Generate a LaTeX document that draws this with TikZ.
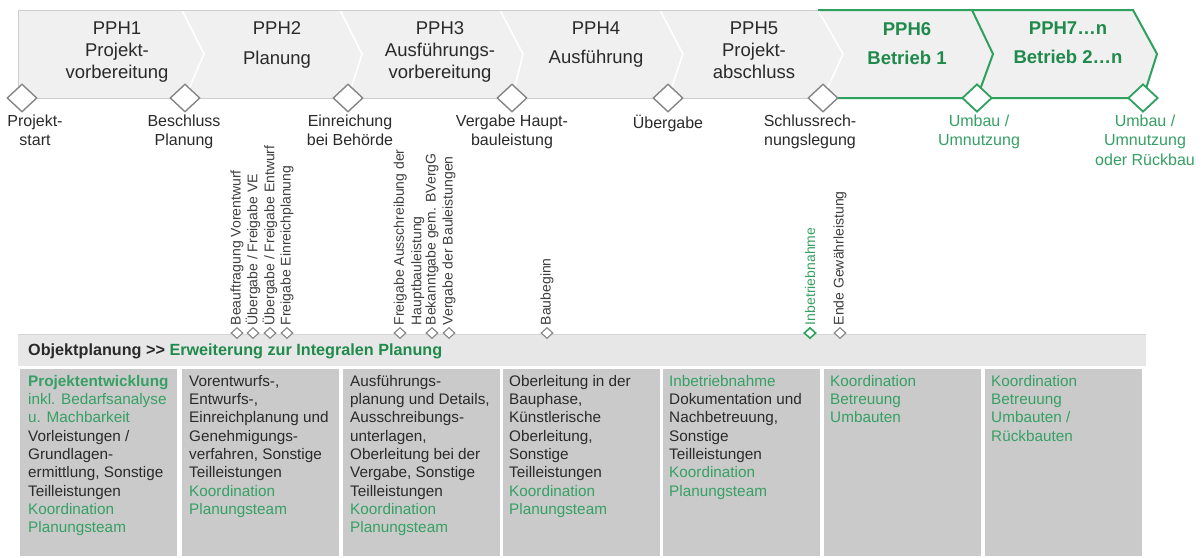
\documentclass[tikz,border=0pt]{standalone}
\usepackage{fontspec}
\setmainfont{Liberation Sans}
\usetikzlibrary{shapes.geometric}

\definecolor{bandgrey}{HTML}{F0F0F0}
\definecolor{bandedge}{HTML}{CDCDCD}
\definecolor{gruen}{HTML}{2FA15F}
\definecolor{gruendark}{HTML}{1F8A4C}
\definecolor{gruentext}{HTML}{36A064}
\definecolor{ink}{HTML}{2A2A2A}
\definecolor{msedge}{HTML}{858585}
\definecolor{headgrey}{HTML}{E7E7E7}
\definecolor{headedge}{HTML}{D6D6D6}
\definecolor{colgrey}{HTML}{CACACA}

\newcommand\gr[1]{\textcolor{gruentext}{#1}}

\begin{document}
\begin{tikzpicture}[x=1pt,y=-1pt,
  phasetitle/.style={align=center, anchor=north, inner sep=0pt, text=ink,
    font=\fontsize{18.5}{22}\selectfont},
  gphasetitle/.style={phasetitle, text=gruendark,
    font=\bfseries\fontsize{18.5}{22}\selectfont},
  milestone/.style={diamond, draw=msedge, fill=white, line width=1.4pt,
    minimum width=30pt, minimum height=28pt, inner sep=0pt},
  gmilestone/.style={milestone, draw=gruen, line width=1.8pt},
  mslabel/.style={align=center, anchor=north, inner sep=0pt, text=ink,
    font=\fontsize{16}{19.5}\selectfont},
  gmslabel/.style={mslabel, text=gruentext},
  smallms/.style={diamond, draw=msedge, fill=white, line width=1.1pt,
    minimum width=12pt, minimum height=11pt, inner sep=0pt},
  gsmallms/.style={smallms, draw=gruen, line width=1.6pt},
  vlabel/.style={rotate=90, anchor=west, inner sep=0pt, text=ink!90,
    font=\fontsize{14}{17.5}\selectfont},
  colbox/.style={fill=colgrey},
  colbody/.style={anchor=north west, align=left, inner sep=0pt, text=ink,
    font=\fontsize{15.3}{18.3}\selectfont},
  divider/.style={white, line width=1.6pt},
  greenline/.style={draw=gruen, line width=2pt, line join=miter}
]
\useasboundingbox (0,0) rectangle (1201,557);
\fill[white] (0,0) rectangle (1201,557);

% ---- phase band ----
\fill[bandgrey] (18,10) -- (1133,10) -- (1157,54) -- (1143,98) -- (18,98) -- cycle;
\draw[divider] (182,10) -- (204,54) -- (185,98);
\draw[divider] (340,10) -- (362,54) -- (348,98);
\draw[divider] (500,10) -- (523,54) -- (512,98);
\draw[divider] (660,10) -- (683,54) -- (668,98);
\draw[divider] (818,10) -- (843,54) -- (823,98);
\draw[bandedge, line width=1pt] (818,10) -- (18,10) -- (18,98) -- (823,98);
\draw[greenline] (818,10) -- (1133,10) -- (1157,54) -- (1143,98) -- (823,98);
\draw[greenline] (972,10) -- (993,54) -- (977,98);

% phase titles
\node[phasetitle] (p1) at (117,21.5) {PPH1\\Projekt-\\vorbereitung};
\node[phasetitle] (p2) at (277,21.5) {PPH2\\[7.5pt]Planung};
\node[phasetitle] (p3) at (440,21.5) {PPH3\\Ausführungs-\\vorbereitung};
\node[phasetitle] (p4) at (596,21.5) {PPH4\\[7.5pt]Ausführung};
\node[phasetitle] (p5) at (754,21.5) {PPH5\\Projekt-\\abschluss};
\node[gphasetitle] (p6) at (907,22) {PPH6\\[7pt]Betrieb 1};
\node[gphasetitle] (p7) at (1068,22) {PPH7…n\\[7pt]Betrieb 2…n};

% ---- main milestones ----
\node[milestone] (ms1) at (22,98) {};
\node[milestone] (ms2) at (185,98) {};
\node[milestone] (ms3) at (348,98) {};
\node[milestone] (ms4) at (512,98) {};
\node[milestone] (ms5) at (668,98) {};
\node[milestone] (ms6) at (823,98) {};
\node[gmilestone] (ms7) at (977,98) {};
\node[gmilestone] (ms8) at (1143,98) {};

\node[mslabel] (l1) at (35,114.5) {Projekt-\\start};
\node[mslabel] (l2) at (184,114.5) {Beschluss\\Planung};
\node[mslabel] (l3) at (350,114.5) {Einreichung\\bei Behörde};
\node[mslabel] (l4) at (512,114.5) {Vergabe Haupt-\\bauleistung};
\node[mslabel] (l5) at (668,114.5) {Übergabe};
\node[mslabel] (l6) at (810,114.5) {Schlussrech-\\nungslegung};
\node[gmslabel] (l7) at (979,114.5) {Umbau /\\Umnutzung};
\node[gmslabel] (l8) at (1145,114.5) {Umbau /\\Umnutzung\\oder Rückbau};

% ---- table header ----
\fill[headgrey] (18,334) rectangle (1146,366);
\draw[headedge, line width=1pt] (18,334) -- (1146,334);
\node[anchor=base west, inner sep=0pt, text=ink,
  font=\bfseries\fontsize{16.2}{19}\selectfont] (head) at (28,355)
  {Objektplanung >{}> \textcolor{gruendark}{Erweiterung zur Integralen Planung}};

% ---- table columns ----
\foreach \cx in {20,182,343,503,663,824,985}
  \fill[colbox] (\cx,369) rectangle ++(157,187);

\node[colbody] (c1) at (28,375) {%
  \textbf{\gr{Projektentwicklung}}\\
  \gr{inkl. Bedarfsanalyse}\\
  \gr{u. Machbarkeit}\\
  Vorleistungen /\\
  Grundlagen-\\
  ermittlung, Sonstige\\
  Teilleistungen\\
  \gr{Koordination}\\
  \gr{Planungsteam}};
\node[colbody] (c2) at (189,375) {%
  Vorentwurfs-,\\
  Entwurfs-,\\
  Einreichplanung und\\
  Genehmigungs-\\
  verfahren, Sonstige\\
  Teilleistungen\\
  \gr{Koordination}\\
  \gr{Planungsteam}};
\node[colbody] (c3) at (350,375) {%
  Ausführungs-\\
  planung und Details,\\
  Ausschreibungs-\\
  unterlagen,\\
  Oberleitung bei der\\
  Vergabe, Sonstige\\
  Teilleistungen\\
  \gr{Koordination}\\
  \gr{Planungsteam}};
\node[colbody] (c4) at (509,375) {%
  Oberleitung in der\\
  Bauphase,\\
  Künstlerische\\
  Oberleitung,\\
  Sonstige\\
  Teilleistungen\\
  \gr{Koordination}\\
  \gr{Planungsteam}};
\node[colbody] (c5) at (669,375) {%
  \gr{Inbetriebnahme}\\
  Dokumentation und\\
  Nachbetreuung,\\
  Sonstige\\
  Teilleistungen\\
  \gr{Koordination}\\
  \gr{Planungsteam}};
\node[colbody] (c6) at (830,375) {%
  \gr{Koordination}\\
  \gr{Betreuung}\\
  \gr{Umbauten}};
\node[colbody] (c7) at (991,375) {%
  \gr{Koordination}\\
  \gr{Betreuung}\\
  \gr{Umbauten /}\\
  \gr{Rückbauten}};

% ---- detailed milestones ----
\node[smallms] (s1) at (237,333) {};
\node[smallms] (s2) at (253,333) {};
\node[smallms] (s3) at (270,333) {};
\node[smallms] (s4) at (287,333) {};
\node[smallms] (s5) at (400,333) {};
\node[smallms] (s6) at (432,333) {};
\node[smallms] (s7) at (449,333) {};
\node[smallms] (s8) at (547,333) {};
\node[gsmallms] (s9) at (810,333) {};
\node[smallms] (s10) at (840,333) {};

\node[vlabel] (v1) at ([yshift=1.5pt]s1.north) {Beauftragung Vorentwurf};
\node[vlabel] (v2) at ([yshift=1.5pt]s2.north) {Übergabe / Freigabe VE};
\node[vlabel] (v3) at ([yshift=1.5pt]s3.north) {Übergabe / Freigabe Entwurf};
\node[vlabel] (v4) at ([yshift=1.5pt]s4.north) {Freigabe Einreichplanung};
\node[vlabel, anchor=north west, align=left] (v5)
  at ([xshift=-6.6pt,yshift=1.5pt]s5.north) {Freigabe Ausschreibung der\\Hauptbauleistung};
\node[vlabel] (v6) at ([yshift=1.5pt]s6.north) {Bekanntgabe gem. BVergG};
\node[vlabel] (v7) at ([yshift=1.5pt]s7.north) {Vergabe der Bauleistungen};
\node[vlabel] (v8) at ([yshift=1.5pt]s8.north) {Baubeginn};
\node[vlabel, text=gruentext] (v9) at ([yshift=1.5pt]s9.north) {Inbetriebnahme};
\node[vlabel] (v10) at ([yshift=1.5pt]s10.north) {Ende Gewährleistung};
\end{tikzpicture}
\end{document}
